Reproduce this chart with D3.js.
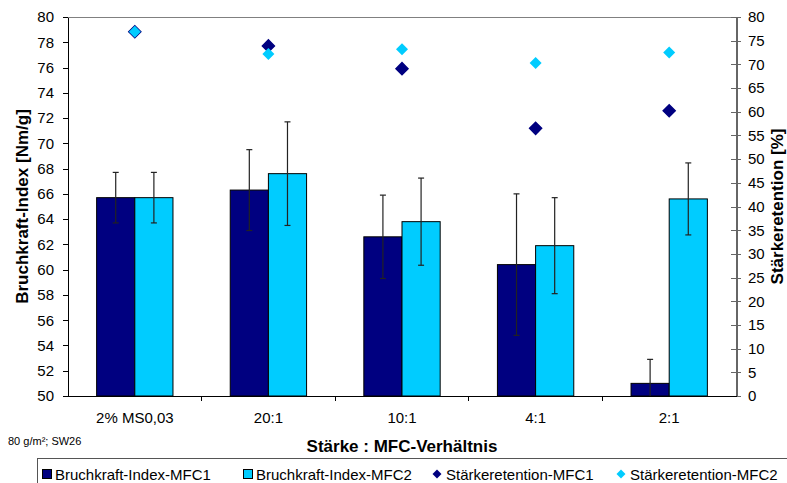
<!DOCTYPE html>
<html>
<head>
<meta charset="utf-8">
<script src="https://cdn.jsdelivr.net/npm/d3@7"></script>
<style>
  body { margin: 0; background: #fff; }
  svg text { font-family: "Liberation Sans", Arial, sans-serif; fill: #000; }
  .axis path, .axis line { shape-rendering: crispEdges; }
</style>
</head>
<body>
<div id="chart"></div>
<script>
// categories and values
var categories = ["2% MS0,03", "20:1", "10:1", "4:1", "2:1"];
var bruchMfc1 = [65.7, 66.3, 62.6, 60.4, 51.0];
var bruchMfc1Err = [2.0, 3.2, 3.3, 5.6, 1.9];
var bruchMfc2 = [65.7, 67.6, 63.8, 61.9, 65.6];
var bruchMfc2Err = [2.0, 4.1, 3.45, 3.8, 2.85];
var retMfc1 = [76.9, 73.9, 69.1, 56.5, 60.2];
var retMfc2 = [76.9, 72.2, 73.2, 70.3, 72.5];
var leftTicks = d3.range(50, 81, 2);
var rightTicks = d3.range(0, 81, 5);

var dark = "#000080", light = "#00ccff";

var W = 787, H = 483;
var margin = {top: 17, right: 51, bottom: 87, left: 68};
var width = W - margin.left - margin.right,
    height = H - margin.top - margin.bottom;

var svg = d3.select("#chart").append("svg")
    .attr("width", W)
    .attr("height", H);

var g = svg.append("g")
    .attr("transform", "translate(" + margin.left + "," + margin.top + ")");

var xScale = d3.scaleBand()
    .domain(categories)
    .range([0, width])
    .paddingInner(0);

var xSub = d3.scaleBand()
    .domain([0, 1])
    .range([0, xScale.bandwidth()])
    .paddingOuter(0.75);

var yLeft = d3.scaleLinear().domain([50, 80]).range([height, 0]);
var yRight = d3.scaleLinear().domain([0, 80]).range([height, 0]);

// top border of plot area
g.append("line")
    .attr("x1", 0).attr("x2", width)
    .attr("y1", 0.5).attr("y2", 0.5)
    .attr("stroke", "#808080");

// bar data
var barData = [];
categories.forEach(function(c, i) {
  barData.push({cat: c, s: 0, v: bruchMfc1[i], e: bruchMfc1Err[i], color: dark});
  barData.push({cat: c, s: 1, v: bruchMfc2[i], e: bruchMfc2Err[i], color: light});
});

svg.append("clipPath").attr("id", "plotclip")
  .append("rect").attr("x", 0).attr("y", 0).attr("width", width).attr("height", height);

var plot = g.append("g").attr("clip-path", "url(#plotclip)");

plot.selectAll("rect.bar")
    .data(barData)
  .enter().append("rect")
    .attr("class", "bar")
    .attr("x", function(d) { return xScale(d.cat) + xSub(d.s); })
    .attr("y", function(d) { return yLeft(d.v); })
    .attr("width", xSub.bandwidth())
    .attr("height", function(d) { return height - yLeft(d.v); })
    .attr("fill", function(d) { return d.color; })
    .attr("stroke", "#000")
    .attr("stroke-width", 1);

// error bars
var errG = plot.selectAll("g.err")
    .data(barData)
  .enter().append("g")
    .attr("class", "err")
    .attr("transform", function(d) {
      return "translate(" + (xScale(d.cat) + xSub(d.s) + xSub.bandwidth() / 2) + ",0)";
    });

errG.append("line")
    .attr("x1", 0).attr("x2", 0)
    .attr("y1", function(d) { return yLeft(d.v + d.e); })
    .attr("y2", function(d) { return yLeft(d.v - d.e); })
    .attr("stroke", "#222").attr("stroke-width", 1.2);

errG.append("line")
    .attr("x1", -3).attr("x2", 3)
    .attr("y1", function(d) { return yLeft(d.v + d.e); })
    .attr("y2", function(d) { return yLeft(d.v + d.e); })
    .attr("stroke", "#222").attr("stroke-width", 1.2);

errG.append("line")
    .attr("x1", -3).attr("x2", 3)
    .attr("y1", function(d) { return yLeft(d.v - d.e); })
    .attr("y2", function(d) { return yLeft(d.v - d.e); })
    .attr("stroke", "#222").attr("stroke-width", 1.2);

// left axis
var yAxisLeft = d3.axisLeft(yLeft)
    .tickValues(leftTicks)
    .tickSize(5)
    .tickSizeOuter(0)
    .tickPadding(9);

var gl = g.append("g").attr("class", "axis").call(yAxisLeft);
gl.select(".domain").attr("stroke", "#000");
gl.selectAll("text").style("font-size", "15px");

// right axis
var yAxisRight = d3.axisRight(yRight)
    .tickValues(rightTicks)
    .tickSize(5)
    .tickSizeOuter(0)
    .tickPadding(7);

var gr = g.append("g").attr("class", "axis")
    .attr("transform", "translate(" + width + ",0)")
    .call(yAxisRight);
gr.select(".domain").attr("stroke", "#666").attr("stroke-width", 2);
gr.selectAll(".tick line").attr("stroke", "#666").attr("x1", -5);
gr.selectAll("text").style("font-size", "15px");

// bottom axis
var xAxis = d3.axisBottom(xScale).tickSize(0).tickPadding(16);
var gx = g.append("g").attr("class", "axis")
    .attr("transform", "translate(0," + height + ")")
    .call(xAxis);
gx.select(".domain").attr("stroke", "#000");
gx.selectAll("text").style("font-size", "15px");

gx.selectAll("line.cat-tick")
    .data(categories.slice(1))
  .enter().append("line")
    .attr("class", "cat-tick")
    .attr("x1", function(d) { return xScale(d); })
    .attr("x2", function(d) { return xScale(d); })
    .attr("y1", 0).attr("y2", 5)
    .attr("stroke", "#000");

// retention markers (right axis)
var diamond = d3.symbol().type(d3.symbolSquare).size(72);

var pointData = [];
categories.forEach(function(c, i) {
  pointData.push({cat: c, v: retMfc1[i], color: dark, stroke: 1.5});
});
categories.forEach(function(c, i) {
  pointData.push({cat: c, v: retMfc2[i], color: light, stroke: 0});
});

g.selectAll("path.pt")
    .data(pointData)
  .enter().append("path")
    .attr("class", "pt")
    .attr("d", diamond)
    .attr("transform", function(d) {
      return "translate(" + (xScale(d.cat) + xScale.bandwidth() / 2) + "," + yRight(d.v) + ") rotate(45)";
    })
    .attr("fill", function(d) { return d.color; })
    .attr("stroke", function(d) { return d.stroke ? d.color : "none"; })
    .attr("stroke-width", function(d) { return d.stroke; });

// axis titles
svg.append("text")
    .attr("transform", "translate(28," + (margin.top + height / 2) + ") rotate(-90)")
    .attr("text-anchor", "middle")
    .style("font-size", "17px")
    .style("font-weight", "bold")
    .text("Bruchkraft-Index [Nm/g]");

svg.append("text")
    .attr("transform", "translate(783," + (margin.top + height / 2) + ") rotate(-90)")
    .attr("text-anchor", "middle")
    .style("font-size", "17px")
    .style("font-weight", "bold")
    .text("Stärkeretention [%]");

svg.append("text")
    .attr("x", margin.left + width / 2)
    .attr("y", 452)
    .attr("text-anchor", "middle")
    .style("font-size", "17px")
    .style("font-weight", "bold")
    .text("Stärke : MFC-Verhältnis");

svg.append("text")
    .attr("x", 8)
    .attr("y", 445)
    .style("font-size", "11px")
    .text("80 g/m²; SW26");

// legend
var legend = svg.append("g");
legend.append("rect")
    .attr("x", 37.5).attr("y", 458.5)
    .attr("width", 760).attr("height", 40)
    .attr("fill", "#fff")
    .attr("stroke", "#555");

var legendItems = [
  {label: "Bruchkraft-Index-MFC1", color: dark, kind: "box", x: 42},
  {label: "Bruchkraft-Index-MFC2", color: light, kind: "box", x: 243},
  {label: "Stärkeretention-MFC1", color: dark, kind: "pt", x: 432},
  {label: "Stärkeretention-MFC2", color: light, kind: "pt", x: 616}
];

var li = legend.selectAll("g.item")
    .data(legendItems)
  .enter().append("g")
    .attr("class", "item")
    .attr("transform", function(d) { return "translate(" + d.x + ",474)"; });

li.filter(function(d) { return d.kind == "box"; })
  .append("rect")
    .attr("x", 0.5).attr("y", -4.5)
    .attr("width", 9).attr("height", 9)
    .attr("fill", function(d) { return d.color; })
    .attr("stroke", "#000");

li.filter(function(d) { return d.kind == "pt"; })
  .append("path")
    .attr("d", d3.symbol().type(d3.symbolSquare).size(40))
    .attr("transform", "translate(5,0) rotate(45)")
    .attr("fill", function(d) { return d.color; });

li.append("text")
    .attr("x", function(d) { return d.kind == "box" ? 13 : 14; })
    .attr("y", 5.5)
    .style("font-size", "15px")
    .text(function(d) { return d.label; });
</script>
</body>
</html>
